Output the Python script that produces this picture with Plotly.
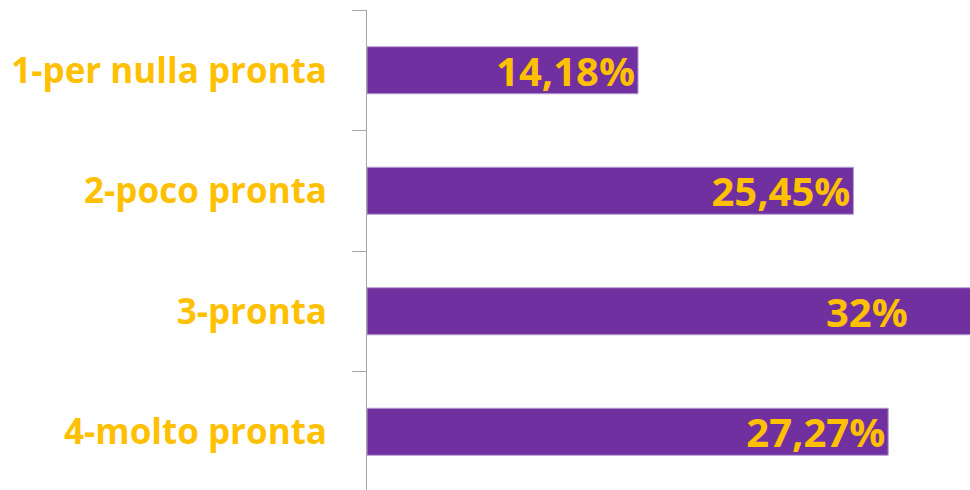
import plotly.graph_objects as go

categories = ["1-per nulla pronta", "2-poco pronta", "3-pronta", "4-molto pronta"]
values = [14.18, 25.45, 32, 27.27]
labels = ["14,18%", "25,45%", "32%", "27,27%"]

PURPLE = "#7030A0"
GOLD = "#FFC000"
FONT = "Open Sans"
X_MAX = 31.55

# labels of bars that run past the axis end are drawn as annotations inside the visible part
inside_text = [t if v <= X_MAX else "" for v, t in zip(values, labels)]

fig = go.Figure(
    go.Bar(
        x=values,
        y=categories,
        orientation="h",
        width=0.39,
        marker=dict(color=PURPLE, line=dict(color="#B59AD0", width=1)),
        text=inside_text,
        textposition="inside",
        insidetextanchor="end",
        constraintext="none",
        textangle=0,
        textfont=dict(family=FONT, size=40, color=GOLD, weight="bold"),
        cliponaxis=True,
    )
)

for v, t, c in zip(values, labels, categories):
    if v > X_MAX:
        fig.add_annotation(
            x=X_MAX, y=c, xref="x", yref="y",
            text=t, showarrow=False, xanchor="right", yanchor="middle",
            xshift=-60,
            font=dict(family=FONT, size=40, color=GOLD, weight="bold"),
        )

fig.update_layout(
    width=970,
    height=492,
    margin=dict(l=367, r=0, t=10, b=0),
    paper_bgcolor="white",
    plot_bgcolor="white",
    showlegend=False,
    xaxis=dict(
        range=[0, X_MAX],
        visible=False,
        showgrid=False,
        zeroline=False,
    ),
    yaxis=dict(
        autorange="reversed",
        showline=True,
        linecolor="#A6A6A6",
        linewidth=1,
        ticks="outside",
        ticklen=14,
        tickcolor="#A6A6A6",
        tickson="boundaries",
        ticklabelstandoff=32,
        tickfont=dict(family=FONT, size=35, color=GOLD, weight="bold"),
        showgrid=False,
        zeroline=False,
    ),
)

fig.write_html(
    "out.html",
    config={"displayModeBar": False},
    post_script="document.body.style.margin='0';document.body.style.overflow='hidden';"
    "document.documentElement.style.overflow='hidden';",
)
